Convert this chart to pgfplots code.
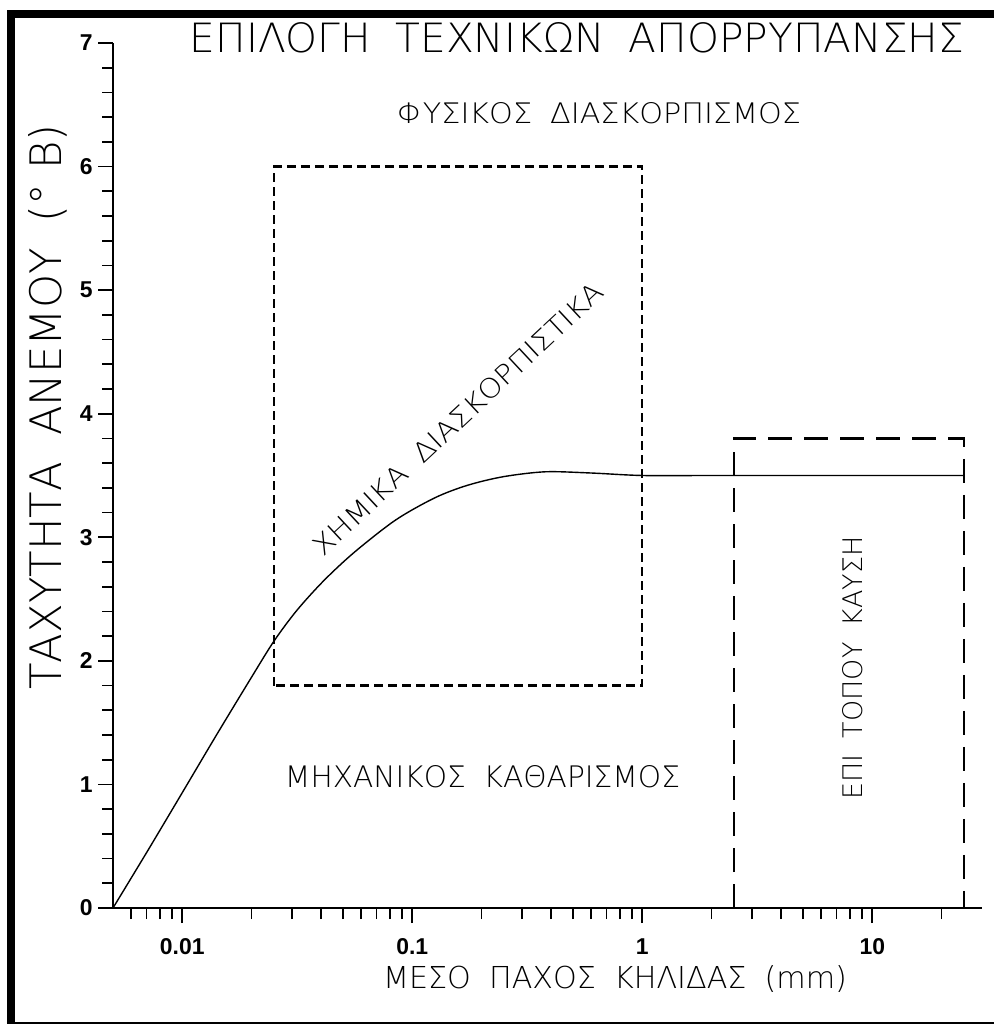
\documentclass[border=0pt]{standalone}
\usepackage{fontspec}
\usepackage{graphicx}
\usepackage{pgfplots}
\pgfplotsset{compat=1.18}
\IfFontExistsTF{DejaVu Sans ExtraLight}
  {\newfontfamily\thin{DejaVu Sans ExtraLight}}
  {\newfontfamily\thin{DejaVu Sans}}
\newfontfamily\tickfont{Liberation Sans}
\newcommand\gap{\hspace{0.6em}}
% text box of given width and cap height
\newcommand\lbl[3]{\resizebox{#1bp}{#2bp}{\thin #3}}
\newcommand\lblw[2]{\resizebox{#1bp}{!}{\thin #2}}

\begin{document}
\begin{tikzpicture}[x=1bp,y=1bp]
\begin{axis}[
  xmode=log,
  width=869bp, height=865bp, scale only axis,
  xmin=0.005, xmax=30, ymin=0, ymax=7,
  axis lines*=left,
  axis line style={line width=1.6bp},
  tick align=outside,
  xtick={0.01,0.1,1,10}, xticklabels={0.01,0.1,1,10},
  minor xtick={0.006,0.007,0.008,0.009,0.02,0.03,0.04,0.05,0.06,0.07,0.08,0.09,
               0.2,0.3,0.4,0.5,0.6,0.7,0.8,0.9,2,3,4,5,6,7,8,9,20},
  ytick={0,1,2,3,4,5,6,7}, yticklabels={0,1,2,3,4,5,6,7},
  minor ytick={0.2,0.4,0.6,0.8,1.2,1.4,1.6,1.8,2.2,2.4,2.6,2.8,3.2,3.4,3.6,3.8,
               4.2,4.4,4.6,4.8,5.2,5.4,5.6,5.8,6.2,6.4,6.6,6.8},
  major tick length=15bp, minor tick length=11bp,
  every tick/.style={black, line width=1.6bp},
  xticklabel style={font=\tickfont\bfseries\fontsize{23}{23}\selectfont, yshift=-12bp},
  yticklabel style={font=\tickfont\bfseries\fontsize{23}{23}\selectfont, xshift=-2bp},
  clip=false,
]
% boundary between mechanical recovery and dispersion
\addplot[smooth, line width=1.4bp, black] coordinates {
  (0.005,0) (0.00706,0.46) (0.00998,0.93) (0.01409,1.40) (0.0199,1.86)
  (0.02506,2.16) (0.03155,2.41) (0.0413,2.65) (0.0561,2.88) (0.0847,3.14)
  (0.1256,3.32) (0.1734,3.42) (0.2483,3.49) (0.379,3.53) (0.601,3.52)
  (1,3.50) (2,3.5) (5,3.5) (25,3.5)};
% chemical dispersant window
\addplot[black, line width=2.4bp, dash pattern=on 9bp off 5bp] coordinates {
  (0.025,1.8) (0.025,6) (1,6) (1,1.8) (0.025,1.8)};
% in-situ burning window
\addplot[black, line width=2.4bp, dash pattern=on 24bp off 12bp] coordinates {
  (2.5,0) (2.5,3.8) (25,3.8) (25,0)};
\end{axis}

% texts
\node[inner sep=0] at (464,870) {\lbl{774}{30}{ΕΠΙΛΟΓΗ\gap ΤΕΧΝΙΚΩΝ\gap ΑΠΟΡΡΥΠΑΝΣΗΣ}};
\node[inner sep=0] at (486,795) {\lbl{404}{21}{ΦΥΣΙΚΟΣ\gap ΔΙΑΣΚΟΡΠΙΣΜΟΣ}};
\node[inner sep=0] at (369.5,131.5) {\lbl{395}{22}{ΜΗΧΑΝΙΚΟΣ\gap ΚΑΘΑΡΙΣΜΟΣ}};
\node[inner sep=0, rotate=43] at (345,489) {\lbl{385}{20}{ΧΗΜΙΚΑ\gap ΔΙΑΣΚΟΡΠΙΣΤΙΚΑ}};
\node[inner sep=0, rotate=90] at (740,240) {\lbl{263}{20}{ΕΠΙ\gap ΤΟΠΟΥ\gap ΚΑΥΣΗ}};
\node[inner sep=0] at (502,-71) {\lblw{464}{ΜΕΣΟ\gap ΠΑΧΟΣ\gap ΚΗΛΙΔΑΣ\gap (mm)}};
\node[inner sep=0, rotate=90] at (-65,501) {\lblw{565}{ΤΑΧΥΤΗΤΑ\gap ΑΝΕΜΟΥ\gap (°\ B)}};

% frame
\fill[black] (-106,-116) rectangle (-98,898);
\fill[black] (-106,890) rectangle (881,898);
\draw[black, line width=2bp] (-106,-115) -- (881,-115);

\pgfresetboundingbox
\path[use as bounding box] (-113,-117) rectangle (881,908);
\end{tikzpicture}
\end{document}
